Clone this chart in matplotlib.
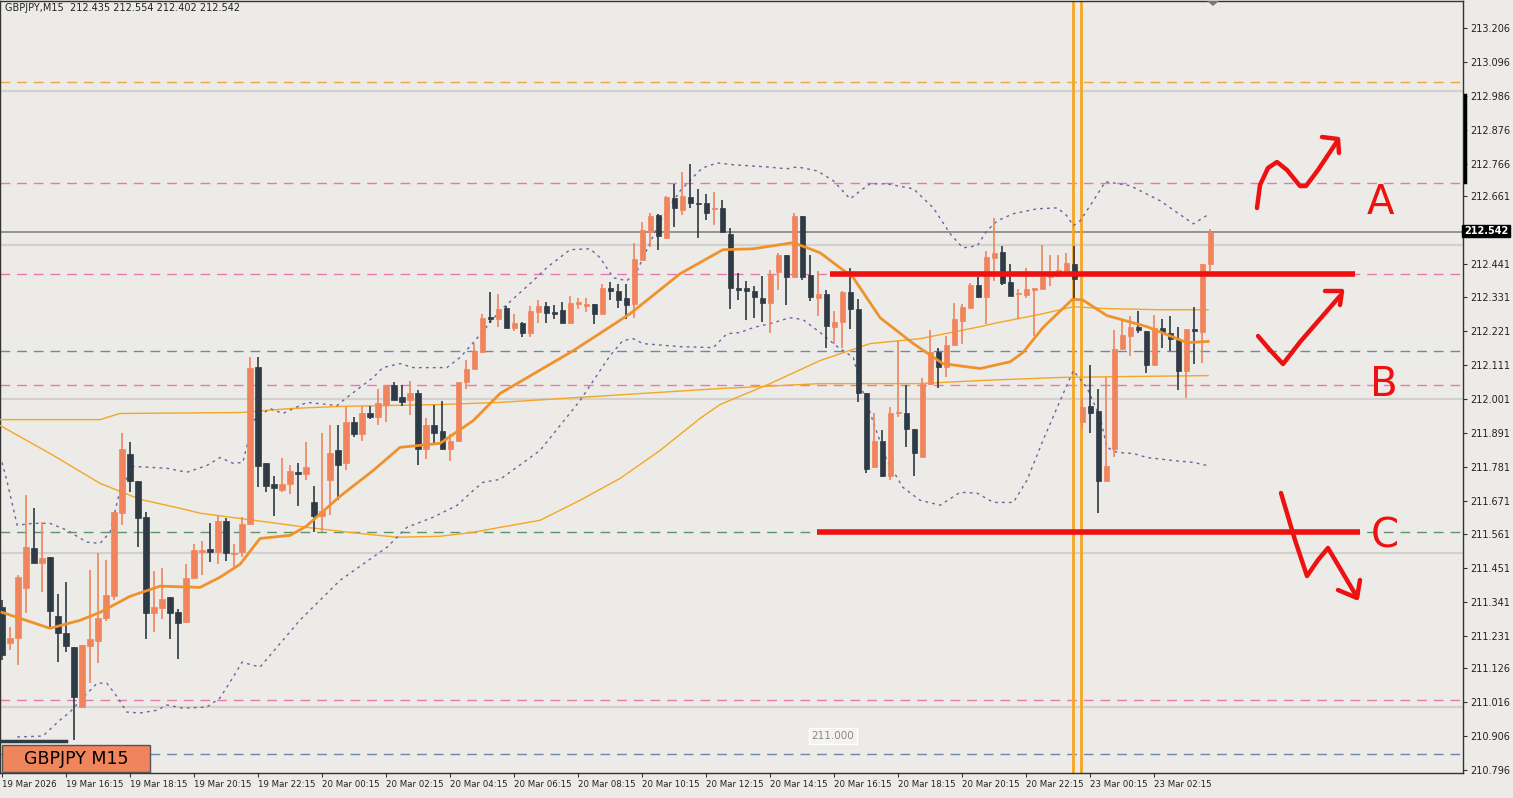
import numpy as np
import matplotlib
matplotlib.use("Agg")
import matplotlib.pyplot as plt
from matplotlib.lines import Line2D
from matplotlib.patches import Rectangle, Polygon

# --- candle data (GBPJPY M15, one value per bar) ---
opens = [211.325, 211.208, 211.224, 211.386, 211.516, 211.467, 211.487, 211.295, 211.240, 211.195,
         211.000, 211.198, 211.214, 211.289, 211.360, 211.630, 211.821, 211.734, 211.617, 211.305,
         211.321, 211.357, 211.308, 211.276, 211.419, 211.503, 211.513, 211.503, 211.604, 211.497,
         211.503, 211.594, 212.106, 211.792, 211.724, 211.704, 211.724, 211.763, 211.756, 211.665,
         211.620, 211.737, 211.834, 211.792, 211.925, 211.886, 211.957, 211.941, 211.983, 212.045,
         212.006, 211.999, 212.022, 211.837, 211.918, 211.896, 211.837, 211.866, 212.055, 212.097,
         212.155, 212.269, 212.262, 212.298, 212.233, 212.249, 212.217, 212.285, 212.304, 212.285,
         212.291, 212.249, 212.311, 212.304, 212.311, 212.278, 212.363, 212.353, 212.330, 212.311,
         212.454, 212.545, 212.600, 212.525, 212.655, 212.616, 212.658, 212.638, 212.638, 212.619,
         212.622, 212.538, 212.360, 212.360, 212.353, 212.330, 212.314, 212.415, 212.470, 212.398,
         212.596, 212.405, 212.330, 212.343, 212.236, 212.252, 212.350, 212.295, 212.019, 211.779,
         211.866, 211.750, 211.954, 211.957, 211.902, 211.814, 212.051, 212.155, 212.106, 212.175,
         212.256, 212.298, 212.372, 212.334, 212.460, 212.480, 212.382, 212.343, 212.340, 212.356,
         212.359, 212.398, 212.402, 212.418, 212.441, 211.925, 211.977, 211.961, 211.734, 211.837,
         212.165, 212.207, 212.236, 212.223, 212.110, 212.233, 212.214, 212.194, 212.093, 212.230,
         212.220, 212.438]
highs = [211.347, 211.259, 211.428, 211.688, 211.646, 211.600, 211.487, 211.367, 211.406, 211.195,
         211.201, 211.445, 211.500, 211.477, 211.633, 211.892, 211.860, 211.734, 211.633, 211.441,
         211.451, 211.357, 211.318, 211.464, 211.529, 211.539, 211.597, 211.620, 211.613, 211.529,
         211.617, 212.139, 212.139, 211.792, 211.750, 211.808, 211.785, 211.792, 211.860, 211.720,
         211.889, 211.918, 211.918, 211.974, 211.944, 211.977, 211.977, 212.035, 212.045, 212.055,
         212.048, 212.058, 212.029, 211.938, 211.980, 211.993, 211.886, 212.055, 212.129, 212.184,
         212.278, 212.350, 212.343, 212.304, 212.278, 212.252, 212.304, 212.324, 212.317, 212.308,
         212.317, 212.337, 212.330, 212.330, 212.311, 212.376, 212.382, 212.376, 212.376, 212.509,
         212.577, 212.606, 212.603, 212.661, 212.700, 212.739, 212.765, 212.684, 212.668, 212.674,
         212.648, 212.558, 212.411, 212.385, 212.369, 212.402, 212.421, 212.476, 212.470, 212.606,
         212.596, 212.470, 212.418, 212.356, 212.288, 212.353, 212.425, 212.327, 212.019, 211.954,
         211.899, 211.974, 212.191, 212.045, 211.902, 212.068, 212.226, 212.168, 212.207, 212.314,
         212.311, 212.379, 212.398, 212.483, 212.590, 212.499, 212.441, 212.359, 212.425, 212.363,
         212.502, 212.470, 212.470, 212.476, 212.499, 212.003, 212.113, 212.032, 212.071, 212.226,
         212.262, 212.272, 212.288, 212.223, 212.275, 212.262, 212.272, 212.236, 212.230, 212.301,
         212.438, 212.554]
lows = [211.153, 211.185, 211.137, 211.305, 211.467, 211.373, 211.259, 211.146, 211.179, 210.893,
        211.000, 211.078, 211.143, 211.279, 211.347, 211.591, 211.698, 211.519, 211.221, 211.243,
        211.286, 211.221, 211.156, 211.272, 211.419, 211.428, 211.471, 211.464, 211.474, 211.454,
        211.487, 211.594, 211.714, 211.698, 211.620, 211.698, 211.691, 211.652, 211.737, 211.568,
        211.568, 211.623, 211.672, 211.769, 211.879, 211.866, 211.935, 211.918, 211.925, 211.999,
        211.977, 211.948, 211.785, 211.805, 211.850, 211.837, 211.798, 211.860, 212.035, 212.097,
        212.152, 212.249, 212.236, 212.233, 212.223, 212.201, 212.201, 212.249, 212.249, 212.262,
        212.249, 212.249, 212.295, 212.285, 212.246, 212.278, 212.324, 212.298, 212.262, 212.265,
        212.454, 212.496, 212.486, 212.525, 212.561, 212.600, 212.622, 212.525, 212.584, 212.567,
        212.545, 212.295, 212.324, 212.259, 212.265, 212.252, 212.217, 212.356, 212.308, 212.398,
        212.388, 212.321, 212.272, 212.168, 212.181, 212.168, 212.230, 211.990, 211.759, 211.779,
        211.746, 211.737, 211.941, 211.844, 211.750, 211.811, 212.048, 212.038, 212.071, 212.175,
        212.181, 212.298, 212.330, 212.246, 212.385, 212.372, 212.337, 212.262, 212.330, 212.207,
        212.369, 212.369, 212.398, 212.418, 212.324, 211.905, 211.892, 211.630, 211.730, 211.814,
        212.165, 212.142, 212.217, 212.087, 212.110, 212.168, 212.158, 212.029, 212.003, 212.116,
        212.119, 212.418]
closes = [211.169, 211.224, 211.422, 211.519, 211.467, 211.484, 211.312, 211.240, 211.198, 211.033,
          211.201, 211.221, 211.289, 211.363, 211.633, 211.837, 211.734, 211.613, 211.305, 211.325,
          211.350, 211.305, 211.272, 211.419, 211.510, 211.510, 211.503, 211.604, 211.500, 211.500,
          211.594, 212.103, 211.782, 211.717, 211.711, 211.724, 211.766, 211.756, 211.779, 211.620,
          211.636, 211.827, 211.785, 211.925, 211.886, 211.957, 211.941, 211.987, 212.045, 211.999,
          211.990, 212.022, 211.837, 211.915, 211.892, 211.837, 211.866, 212.055, 212.100, 212.158,
          212.265, 212.262, 212.295, 212.233, 212.249, 212.214, 212.288, 212.304, 212.282, 212.278,
          212.249, 212.314, 212.314, 212.311, 212.278, 212.363, 212.353, 212.324, 212.308, 212.457,
          212.551, 212.597, 212.532, 212.658, 212.622, 212.661, 212.638, 212.635, 212.606, 212.622,
          212.545, 212.360, 212.356, 212.353, 212.334, 212.314, 212.408, 212.470, 212.398, 212.596,
          212.398, 212.334, 212.343, 212.239, 212.252, 212.350, 212.295, 212.019, 211.775, 211.866,
          211.750, 211.954, 211.957, 211.902, 211.824, 212.051, 212.155, 212.106, 212.178, 212.262,
          212.301, 212.372, 212.334, 212.463, 212.476, 212.379, 212.337, 212.346, 212.359, 212.359,
          212.398, 212.402, 212.421, 212.444, 212.392, 211.974, 211.957, 211.734, 211.782, 212.165,
          212.210, 212.236, 212.226, 212.110, 212.233, 212.220, 212.197, 212.093, 212.230, 212.223,
          212.438, 212.542]

# --- indicator lines (bar index, price) ---
ma_fast_idx = [0, 6, 9.75, 12.25, 16, 19.75, 24.75, 27.25, 29.75, 32.25, 36, 38, 42.25, 46.4, 49.75,
               54.75, 58.9, 62.25, 71.4, 78.5, 84.75, 90.1, 93.9, 98.9, 102.25, 106.4, 109.75, 113.9,
               117.6, 122.25, 126, 127.6, 130.1, 133.75, 135, 138.1, 143.1, 148.1, 150.75]
ma_fast_val = [211.308, 211.256, 211.282, 211.308, 211.360, 211.393, 211.389, 211.422, 211.464, 211.548,
               211.558, 211.587, 211.685, 211.769, 211.844, 211.857, 211.931, 212.019, 212.158, 212.278,
               212.408, 212.486, 212.489, 212.509, 212.476, 212.395, 212.265, 212.181, 212.116, 212.100,
               212.122, 212.152, 212.233, 212.324, 212.324, 212.272, 212.236, 212.184, 212.188]

ma_mid_idx = [-0.25, 6, 12.25, 17.25, 22.25, 24.75, 29.75, 38.1, 44.4, 49.4, 54.75, 58.9, 62.25, 67.25,
              72.25, 77.25, 82.25, 87.25, 89.75, 96, 102.25, 108.5, 114.75, 122.25, 123.9, 130.1,
              133.9, 137.6, 144.75, 150.75]
ma_mid_val = [211.915, 211.824, 211.727, 211.675, 211.646, 211.630, 211.613, 211.584, 211.565, 211.552,
              211.555, 211.568, 211.584, 211.607, 211.672, 211.743, 211.834, 211.938, 211.983, 212.051,
              212.126, 212.181, 212.197, 212.236, 212.246, 212.278, 212.301, 212.295, 212.291, 212.291]

ma_slow_idx = [-0.25, 12.25, 14.75, 29.75, 36, 42.25, 54.75, 62.25, 89.75, 102.25, 114.75, 122.25,
               132.25, 140.6, 150.75]
ma_slow_val = [211.934, 211.934, 211.954, 211.957, 211.970, 211.977, 211.983, 211.990, 212.035, 212.051,
               212.051, 212.061, 212.071, 212.074, 212.077]

bb_up_idx = [0, 0.6, 1.9, 3.9, 6, 8.1, 10.6, 12.25, 13.5, 14.75, 16.4, 20.6, 23.1, 25.6, 27.25, 28.9,
             30.1, 31.4, 33.5, 35.1, 38.1, 41.9, 43.1, 46.4, 47.6, 49.75, 51.4, 55.6, 57.25, 58.9, 62.25,
             66, 68.1, 71, 73.5, 74.75, 76.4, 78.1, 79.4, 82.25, 84.75, 86.9, 87.6, 89.4, 91.4, 95.6,
             98.1, 99.4, 101.9, 103.9, 106, 107.25, 108.5, 110.6, 113.9, 116.4, 118.5, 120.1, 121.9,
             123.1, 124.4, 126.4, 129.4, 131.9, 133.1, 133.9, 134.75, 136.4, 137.9, 141, 144.75, 148.9,
             150.75]
bb_up_val = [211.795, 211.737, 211.591, 211.597, 211.597, 211.575, 211.536, 211.532, 211.568, 211.704,
             211.782, 211.776, 211.763, 211.785, 211.811, 211.792, 211.795, 211.931, 211.970, 211.954,
             211.990, 211.980, 212.006, 212.071, 212.103, 212.116, 212.103, 212.103, 212.136, 212.184,
             212.288, 212.376, 212.428, 212.486, 212.489, 212.460, 212.395, 212.385, 212.418, 212.580,
             212.677, 212.736, 212.752, 212.768, 212.762, 212.755, 212.749, 212.755, 212.742, 212.710,
             212.651, 212.677, 212.700, 212.700, 212.684, 212.622, 212.538, 212.492, 212.499, 212.548,
             212.580, 212.603, 212.619, 212.622, 212.596, 212.564, 212.580, 212.645, 212.707, 212.694,
             212.645, 212.570, 212.600]

bb_lo_idx = [1.9, 5.1, 7.25, 8.5, 10.1, 11.9, 13.1, 14.4, 15.6, 17.25, 19.4, 20.6, 22.6, 25.6, 27.25,
             28.9, 30, 32.25, 37.25, 42.25, 48.1, 50.6, 53.9, 56.9, 58.9, 60.1, 62.25, 67.25, 72.25, 76,
             77.6, 78.9, 80.1, 84.75, 88.9, 90.6, 92.25, 93.9, 96, 98.5, 100.1, 102.25, 104.4, 106.4,
             107.25, 108.1, 109.4, 110.6, 112.6, 114.75, 117.25, 119.75, 121.9, 123.9, 126.4, 128.1,
             130.1, 132.25, 133.9, 135.6, 137.25, 138.1, 139.4, 141.4, 143.1, 146.4, 148.9, 150.6]
bb_lo_val = [210.903, 210.906, 210.958, 210.984, 211.030, 211.078, 211.078, 211.033, 210.984, 210.981,
             210.990, 211.007, 210.997, 211.000, 211.030, 211.098, 211.146, 211.130, 211.283, 211.412,
             211.519, 211.584, 211.617, 211.656, 211.704, 211.730, 211.740, 211.834, 211.996, 212.142,
             212.191, 212.197, 212.181, 212.171, 212.168, 212.213, 212.217, 212.233, 212.246, 212.265,
             212.259, 212.217, 212.171, 212.136, 212.051, 211.986, 211.889, 211.801, 211.714, 211.672,
             211.656, 211.698, 211.695, 211.665, 211.665, 211.737, 211.866, 211.996, 212.093, 212.038,
             211.941, 211.844, 211.827, 211.824, 211.811, 211.801, 211.795, 211.785]

# horizontal reference lines (price, colour)
level_lines = [(213.031, "#F0A640"), (212.703, "#E879B0"), (212.408, "#E879B0"), (212.158, "#6F86B0"),
               (212.048, "#E879B0"), (211.568, "#5E9468"), (211.023, "#E879B0"), (210.848, "#6F86B0")]
round_levels = [213.0, 212.5, 212.0, 211.5, 211.0]
bid = 212.542

ytick_vals = [213.206, 213.096, 212.986, 212.876, 212.766, 212.661, 212.441, 212.331, 212.221, 212.111,
              212.001, 211.891, 211.781, 211.671, 211.561, 211.451, 211.341, 211.231, 211.126, 211.016,
              210.906, 210.796]
xtick_idx = list(range(0, 152, 8))
xtick_lbl = ["19 Mar 2026", "19 Mar 16:15", "19 Mar 18:15", "19 Mar 20:15", "19 Mar 22:15",
             "20 Mar 00:15", "20 Mar 02:15", "20 Mar 04:15", "20 Mar 06:15", "20 Mar 08:15",
             "20 Mar 10:15", "20 Mar 12:15", "20 Mar 14:15", "20 Mar 16:15", "20 Mar 18:15",
             "20 Mar 20:15", "20 Mar 22:15", "23 Mar 00:15", "23 Mar 02:15"]

BG = "#ECEBE7"
BULL = "#F0845C"
BEAR = "#2E3A44"

W, H = 1513, 798
fig = plt.figure(figsize=(W / 100, H / 100), dpi=100, facecolor=BG)
ax = fig.add_axes([0, 1 - 773 / H, 1463 / W, 772 / H], facecolor=BG)
ax.set_xlim(-0.25, 182.6)
ax.set_ylim(210.786, 213.294)

for p in round_levels:
    ax.axhline(p, color="#D2D1CD", lw=1.6, zorder=1)
for p, c in level_lines:
    ax.axhline(p, color=c, lw=1, ls=(0, (7, 5)), zorder=1)
ax.axhline(bid, color="#7A7A78", lw=1.1, zorder=1)

# session lines
ax.axvline(133.9, color="#F5A623", lw=2, zorder=2)
ax.axvline(134.9, color="#F5A623", lw=2, zorder=2)

# indicators
ax.plot(ma_mid_idx, ma_mid_val, color="#F5A623", lw=1, zorder=3)
ax.plot(ma_slow_idx, ma_slow_val, color="#F5A623", lw=1, zorder=3)
ax.plot(bb_up_idx, bb_up_val, color="#6E62A0", lw=1, ls=(0, (2, 3)), zorder=3)
ax.plot(bb_lo_idx, bb_lo_val, color="#6E62A0", lw=1, ls=(0, (2, 3)), zorder=3)

# candles
for i in range(len(opens)):
    o, h, l, c = opens[i], highs[i], lows[i], closes[i]
    col = BULL if c >= o else BEAR
    ax.vlines(i, l, h, color=col, lw=1.2, zorder=4)
    bot, top = min(o, c), max(o, c)
    ax.add_patch(Rectangle((i - 0.32, bot), 0.64, max(top - bot, 0.004), facecolor=col,
                           edgecolor=col, lw=0.5, zorder=5))

ax.plot(ma_fast_idx, ma_fast_val, color="#F0922B", lw=2, zorder=6)

# red drawings on the chart
ax.hlines(212.408, 103.5, 169.1, color="#EE1111", lw=4, zorder=7)
ax.hlines(211.568, 101.9, 169.75, color="#EE1111", lw=4, zorder=7)

def fig_pts(pts):
    return [(x / W, 1 - y / H) for x, y in pts]

strokes = [
    [(1257, 208), (1260, 185), (1268, 168), (1277, 162), (1287, 170), (1300, 186), (1306, 186),
     (1318, 170), (1338, 140)],
    [(1322, 137), (1338, 139), (1339, 153)],
    [(1258, 336), (1270, 350), (1283, 364), (1300, 342), (1340, 296)],
    [(1325, 291), (1342, 291), (1340, 305)],
    [(1281, 493), (1295, 540), (1307, 576), (1318, 560), (1328, 548), (1357, 597)],
    [(1338, 590), (1357, 598), (1360, 580)],
]
for s in strokes:
    xs, ys = zip(*fig_pts(s))
    fig.add_artist(Line2D(xs, ys, color="#EE1111", lw=3.2, solid_capstyle="round",
                          solid_joinstyle="round", zorder=10))
for letter, x, y in [("A", 1380, 203), ("B", 1384, 385), ("C", 1385, 537)]:
    fig.text(x / W, 1 - y / H, letter, color="#EE1111", fontsize=29, ha="center", va="center")

# axes styling
for sp in ax.spines.values():
    sp.set_color("#333333")
    sp.set_linewidth(1)
ax.yaxis.tick_right()
ax.set_yticks(ytick_vals)
ax.set_yticklabels([f"{v:.3f}" for v in ytick_vals], fontsize=7, color="#222222")
ax.set_xticks(xtick_idx)
ax.set_xticklabels(xtick_lbl, fontsize=6.2, color="#222222", ha="left")
ax.tick_params(axis="both", length=3, width=0.8, color="#333333", pad=2)

# labels and boxes
fig.text(5 / W, 1 - 8 / H, "GBPJPY,M15  212.435 212.554 212.402 212.542", fontsize=7,
         color="#222222", va="center")
fig.text(1486 / W, 1 - 231 / H, "212.542", fontsize=7, color="white", ha="center", va="center",
         fontweight="bold", bbox=dict(boxstyle="square,pad=0.15", fc="black", ec="black"))
fig.add_artist(Rectangle((2 / W, 1 - 772 / H), 148 / W, 27 / H, transform=fig.transFigure,
                         fc="#F0845C", ec="#555555", lw=1, zorder=8))
fig.text(76 / W, 1 - 759 / H, "GBPJPY M15", fontsize=12.5, color="black", ha="center", va="center",
         zorder=9)
fig.add_artist(Line2D([2 / W, 66 / W], [1 - 741 / H, 1 - 741 / H], color="#2E3A44", lw=2.5))
fig.text(833 / W, 1 - 736 / H, "211.000", fontsize=7.5, color="#888888", ha="center", va="center",
         bbox=dict(boxstyle="square,pad=0.25", fc="#F4F3F0", ec="white"))
fig.add_artist(Line2D([1465 / W, 1465 / W], [1 - 95 / H, 1 - 182 / H], color="black", lw=2.5))
fig.add_artist(Polygon([(1207 / W, 1 - 1 / H), (1219 / W, 1 - 1 / H), (1213 / W, 1 - 6 / H)],
                       closed=True, fc="#777777", ec="none"))

fig.savefig("out.png", dpi=100, facecolor=BG)
